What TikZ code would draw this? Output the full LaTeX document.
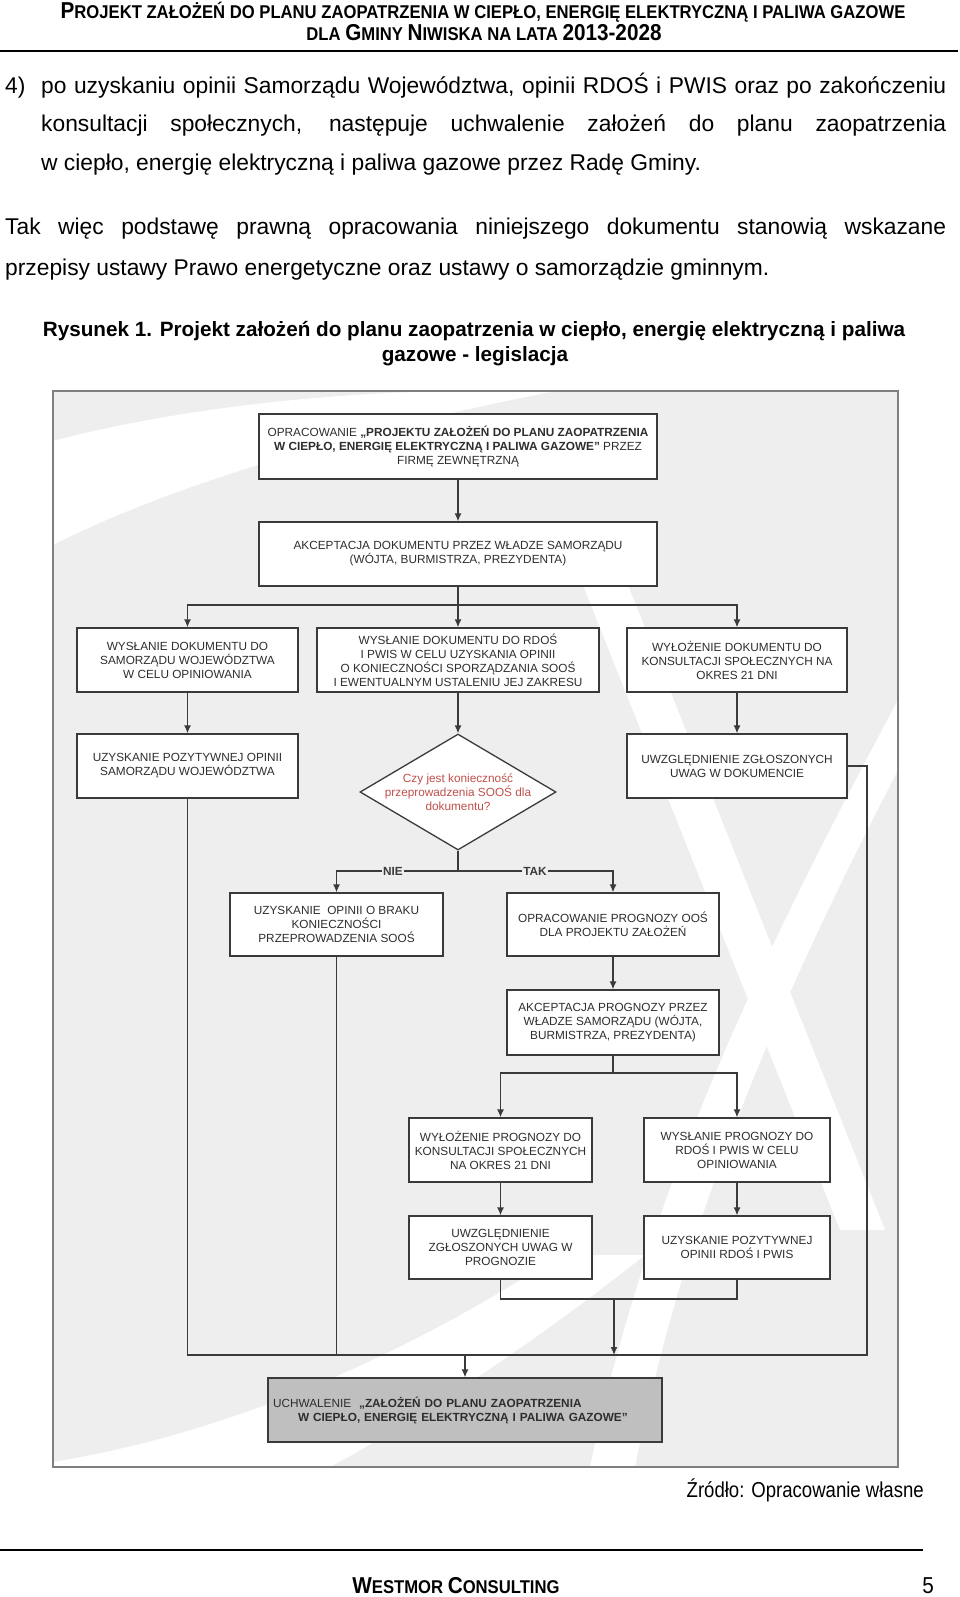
\documentclass[tikz,border=0pt]{standalone}
\usepackage{fontspec}
\setmainfont{Liberation Sans}
\newfontfamily\narrowfont[FakeStretch=0.9]{Liberation Sans}
\newfontfamily\sourcefont[FakeStretch=0.86]{Liberation Sans}
\usetikzlibrary{arrows.meta,shapes.geometric}

\definecolor{linecol}{HTML}{3A3A3A}
\definecolor{boxtext}{HTML}{2E2E2E}
\definecolor{bgcol}{HTML}{EEEEEE}
\definecolor{framecol}{HTML}{7F7F7F}
\definecolor{finalcol}{HTML}{BFBFBF}
\definecolor{questcol}{HTML}{C0504D}

\newcommand{\boxfont}{\fontsize{11.8}{14}\selectfont}
\newcommand{\bodyfont}{\fontsize{22.8}{27}\selectfont}
\newcommand{\captionfont}{\fontsize{20.7}{25}\selectfont}
\newcommand{\smc}[1]{{\fontsize{18.5}{22}\selectfont #1}}
\newcommand{\bigc}[1]{{\fontsize{23}{22}\selectfont #1}}

\tikzset{
  stepbox/.style={draw=linecol, fill=white, line width=1.3pt, inner sep=0pt,
    align=center, text=boxtext, font=\boxfont},
  question/.style={diamond, draw=linecol, fill=white, line width=1.3pt, inner sep=0pt,
    minimum width=196pt, minimum height=116pt},
  questiontext/.style={inner sep=0pt, align=center, text=questcol, font=\boxfont},
  branch/.style={inner sep=1pt, font=\boxfont\bfseries, text=linecol},
  link/.style={draw=linecol, line width=1.3pt},
  arrowlink/.style={link, -{Latex[length=8pt,width=7pt]}},
  pagetext/.style={inner sep=0pt, font=\bodyfont},
}

\begin{document}
\begin{tikzpicture}[x=1pt,y=-1pt]
    \useasboundingbox (0,0) rectangle (960,1597);
    \fill[white] (0,0) rectangle (960,1597);

    % page header
    \node[anchor=base, inner sep=0pt, font=\narrowfont\bfseries] (tytul1) at (483,19)
        {\bigc{P}\smc{ROJEKT ZAŁOŻEŃ DO PLANU ZAOPATRZENIA W CIEPŁO, ENERGIĘ ELEKTRYCZNĄ I PALIWA GAZOWE}};
    \node[anchor=base, inner sep=0pt, font=\narrowfont\bfseries] (tytul2) at (484,41)
        {\smc{DLA }\bigc{G}\smc{MINY }\bigc{N}\smc{IWISKA NA LATA }\bigc{2013-2028}};
    \draw[line width=2pt] (0,51) -- (958,51);

    % text above the figure
    \node[pagetext, anchor=base west] (pkt) at (5,94) {4)};
    \node[pagetext, anchor=base west] (wiersz1) at (41,94)
        {\makebox[905pt][s]{po uzyskaniu opinii Samorządu Województwa, opinii RDOŚ i PWIS oraz po zakończeniu}};
    \node[pagetext, anchor=base west] (wiersz2) at (41,132)
        {\makebox[905pt][s]{konsultacji społecznych, następuje uchwalenie założeń do planu zaopatrzenia}};
    \node[pagetext, anchor=base west] (wiersz3) at (41,171)
        {w ciepło, energię elektryczną i paliwa gazowe przez Radę Gminy.};
    \node[pagetext, anchor=base west] (wiersz4) at (5,235)
        {\makebox[941pt][s]{Tak więc podstawę prawną opracowania niniejszego dokumentu stanowią wskazane}};
    \node[pagetext, anchor=base west] (wiersz5) at (5,275)
        {przepisy ustawy Prawo energetyczne oraz ustawy o samorządzie gminnym.};
    \node[anchor=base, inner sep=0pt, font=\captionfont\bfseries] (podpis1) at (474,336)
        {Rysunek 1. Projekt założeń do planu zaopatrzenia w ciepło, energię elektryczną i paliwa};
    \node[anchor=base, inner sep=0pt, font=\captionfont\bfseries] (podpis2) at (475,361)
        {gazowe - legislacja};

    % figure background
    \fill[bgcol] (53,391) rectangle (898,1467);
    \begin{scope}
        \clip (53,391) rectangle (898,1467);
        \fill[white] (471,391) -- (556,391) .. controls (380,425) and (180,480) .. (53,545)
            -- (53,441) .. controls (170,410) and (330,391) .. (471,391) -- cycle;
        \fill[white] (565,540) -- (610,540) -- (885,1230) -- (840,1230) -- cycle;
        \fill[white] (898,700) .. controls (770,940) and (650,1180) .. (590,1467)
            -- (635,1467) .. controls (690,1190) and (800,960) .. (898,770) -- cycle;
        \fill[white] (53,1462) .. controls (250,1430) and (430,1340) .. (560,1255)
            -- (645,1255) .. controls (500,1370) and (380,1440) .. (330,1467) -- (53,1467) -- cycle;
    \end{scope}
    \draw[framecol, line width=1.2pt] (53,391) rectangle (898,1467);

    % flowchart boxes
    \node[stepbox, minimum width=398pt, minimum height=65pt] (opracowanie) at (458,446.5)
        {OPRACOWANIE \textbf{„PROJEKTU ZAŁOŻEŃ DO PLANU ZAOPATRZENIA}\\
         \textbf{W CIEPŁO, ENERGIĘ ELEKTRYCZNĄ I PALIWA GAZOWE”} PRZEZ\\
         FIRMĘ ZEWNĘTRZNĄ};
    \node[stepbox, minimum width=398pt, minimum height=64pt] (akceptacja) at (458,554)
        {AKCEPTACJA DOKUMENTU PRZEZ WŁADZE SAMORZĄDU\\(WÓJTA, BURMISTRZA, PREZYDENTA)};
    \node[stepbox, minimum width=221pt, minimum height=64pt] (doWojewodztwa) at (187.5,660)
        {WYSŁANIE DOKUMENTU DO\\SAMORZĄDU WOJEWÓDZTWA\\W CELU OPINIOWANIA};
    \node[stepbox, minimum width=282pt, minimum height=64pt] (doRdos) at (458,660)
        {WYSŁANIE DOKUMENTU DO RDOŚ\\I PWIS W CELU UZYSKANIA OPINII\\O KONIECZNOŚCI SPORZĄDZANIA SOOŚ\\I EWENTUALNYM USTALENIU JEJ ZAKRESU};
    \node[stepbox, minimum width=220pt, minimum height=64pt] (wylozenie) at (737,660)
        {WYŁOŻENIE DOKUMENTU DO\\KONSULTACJI SPOŁECZNYCH NA\\OKRES 21 DNI};
    \node[stepbox, minimum width=221pt, minimum height=64pt] (opiniaWoj) at (187.5,766)
        {UZYSKANIE POZYTYWNEJ OPINII\\SAMORZĄDU WOJEWÓDZTWA};
    \node[question] (pytanie) at (458,792) {};
    \node[questiontext] (pytanieTekst) at (pytanie.center)
        {Czy jest konieczność\\przeprowadzenia SOOŚ dla\\dokumentu?};
    \node[stepbox, minimum width=220pt, minimum height=64pt] (uwagiDok) at (737,766)
        {UWZGLĘDNIENIE ZGŁOSZONYCH\\UWAG W DOKUMENCIE};
    \node[stepbox, minimum width=213pt, minimum height=63pt] (brakSoos) at (336.5,924.5)
        {UZYSKANIE\ \ OPINII O BRAKU\\KONIECZNOŚCI\\PRZEPROWADZENIA SOOŚ};
    \node[stepbox, minimum width=212pt, minimum height=63pt] (prognoza) at (613,924.5)
        {OPRACOWANIE PROGNOZY OOŚ\\DLA PROJEKTU ZAŁOŻEŃ};
    \node[stepbox, minimum width=212pt, minimum height=65pt] (akceptProg) at (613,1022.5)
        {AKCEPTACJA PROGNOZY PRZEZ\\WŁADZE SAMORZĄDU (WÓJTA,\\BURMISTRZA, PREZYDENTA)};
    \node[stepbox, minimum width=183pt, minimum height=64pt] (wylozProg) at (500.5,1150)
        {WYŁOŻENIE PROGNOZY DO\\KONSULTACJI SPOŁECZNYCH\\NA OKRES 21 DNI};
    \node[stepbox, minimum width=186pt, minimum height=64pt] (wyslProg) at (737,1150)
        {WYSŁANIE PROGNOZY DO\\RDOŚ I PWIS W CELU\\OPINIOWANIA};
    \node[stepbox, minimum width=183pt, minimum height=63pt] (uwagiProg) at (500.5,1247.5)
        {UWZGLĘDNIENIE\\ZGŁOSZONYCH UWAG W\\PROGNOZIE};
    \node[stepbox, minimum width=186pt, minimum height=63pt] (opiniaRdos) at (737,1247.5)
        {UZYSKANIE POZYTYWNEJ\\OPINII RDOŚ I PWIS};
    \node[stepbox, fill=finalcol, minimum width=394pt, minimum height=64pt,
          inner xsep=5pt, text width=384pt, align=left] (uchwalenie) at (465,1410)
        {UCHWALENIE\ \ \textbf{„ZAŁOŻEŃ DO PLANU ZAOPATRZENIA}\\
         \hspace*{25pt}\textbf{W CIEPŁO, ENERGIĘ ELEKTRYCZNĄ I PALIWA GAZOWE”}};

    % branch labels
    \node[branch] (nie) at (393,871) {NIE};
    \node[branch] (tak) at (535,871) {TAK};

    % junction points
    \coordinate (split1) at (458,605);
    \coordinate (fork) at (458,871);
    \coordinate (split2) at (613,1073);
    \coordinate (join3) at (614,1299);
    \coordinate (bus) at (465,1355);
    \coordinate (busright) at (867,1355);

    % connectors
    \draw[arrowlink] (opracowanie) -- (akceptacja);
    \draw[link] (akceptacja.south) -- (split1);
    \draw[arrowlink] (split1) -| (doWojewodztwa.north);
    \draw[arrowlink] (split1) -- (doRdos.north);
    \draw[arrowlink] (split1) -| (wylozenie.north);
    \draw[arrowlink] (doWojewodztwa) -- (opiniaWoj);
    \draw[arrowlink] (doRdos) -- (pytanie.north);
    \draw[arrowlink] (wylozenie) -- (uwagiDok);
    \draw[link] (pytanie.south) -- (fork);
    \draw[link] (fork) -- (nie.east);
    \draw[link] (fork) -- (tak.west);
    \draw[arrowlink] (nie.west) -| (brakSoos.north);
    \draw[arrowlink] (tak.east) -| (prognoza.north);
    \draw[arrowlink] (prognoza) -- (akceptProg);
    \draw[link] (akceptProg.south) -- (split2);
    \draw[arrowlink] (split2) -| (wylozProg.north);
    \draw[arrowlink] (split2) -| (wyslProg.north);
    \draw[arrowlink] (wylozProg) -- (uwagiProg);
    \draw[arrowlink] (wyslProg) -- (opiniaRdos);
    \draw[link] (uwagiProg.south) |- (join3) -| (opiniaRdos.south);
    \draw[arrowlink] (join3) -- (join3 |- bus);
    \draw[link] (opiniaWoj.south) |- (busright) |- (uwagiDok.east);
    \draw[link] (brakSoos.south) -- (brakSoos.south |- bus);
    \draw[arrowlink] (bus) -- (uchwalenie.north);

    % below the figure
    \node[anchor=base east, inner sep=0pt, font=\sourcefont\fontsize{21.6}{24}\selectfont] (zrodlo) at (924,1497)
        {Źródło: Opracowanie własne};
    \draw[line width=2pt] (0,1550) -- (923,1550);
    \node[anchor=base, inner sep=0pt, font=\narrowfont\bfseries] (stopka) at (456,1593)
        {\bigc{W}\smc{ESTMOR }\bigc{C}\smc{ONSULTING}};
    \node[anchor=base, inner sep=0pt, font=\narrowfont\fontsize{23}{26}\selectfont] (strona) at (928,1593) {5};
\end{tikzpicture}
\end{document}
